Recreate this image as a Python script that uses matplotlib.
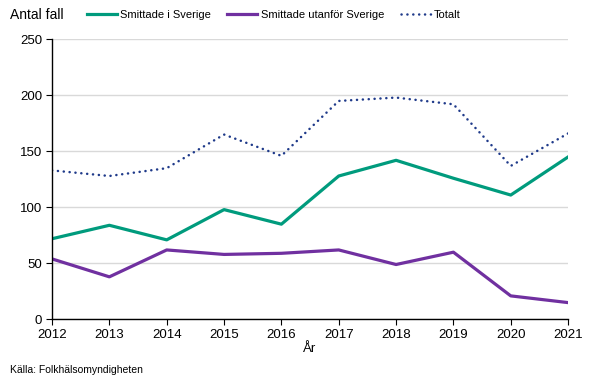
import matplotlib.pyplot as plt

plt.rcParams['font.family'] = ['Liberation Sans', 'DejaVu Sans']

# data
years = [2012, 2013, 2014, 2015, 2016, 2017, 2018, 2019, 2020, 2021]
sverige = [72, 84, 71, 98, 85, 128, 142, 126, 111, 145]
utanfor = [54, 38, 62, 58, 59, 62, 49, 60, 21, 15]
totalt = [133, 128, 135, 165, 146, 195, 198, 192, 137, 166]

fig = plt.figure(figsize=(6.05, 3.78), dpi=100)
ax = fig.add_axes([0.086, 0.155, 0.853, 0.741])

ax.plot(years, sverige, color='#009b7d', linewidth=2.3, label='Smittade i Sverige')
ax.plot(years, utanfor, color='#7030a0', linewidth=2.3, label='Smittade utanför Sverige')
ax.plot(years, totalt, color='#1f3a8a', linewidth=1.8, linestyle=(0, (0.05, 2.3)),
        dash_capstyle='round', label='Totalt')

ax.set_xlim(2012, 2021)
ax.set_ylim(0, 250)
ax.set_xticks(years)
ax.set_yticks(range(0, 251, 50))
ax.tick_params(labelsize=9.5, length=4, width=0.8, color='black', pad=3)
ax.grid(axis='y', color='#d9d9d9', linewidth=1)
ax.set_axisbelow(True)
for s in ['top', 'right']:
    ax.spines[s].set_visible(False)
ax.spines['left'].set_linewidth(1)
ax.spines['bottom'].set_linewidth(1)

ax.set_xlabel('År', fontsize=9.5, labelpad=1)
fig.text(0.017, 0.96, 'Antal fall', fontsize=10, va='center', ha='left')
fig.text(0.017, 0.022, 'Källa: Folkhälsomyndigheten', fontsize=7.5, va='center', ha='left')

fig.legend(loc='center left', bbox_to_anchor=(0.143, 0.96), ncol=3, frameon=False,
           fontsize=8, handlelength=2.7, handletextpad=0.3, columnspacing=1.5,
           borderaxespad=0, borderpad=0)

fig.savefig('out.png', dpi=100)
